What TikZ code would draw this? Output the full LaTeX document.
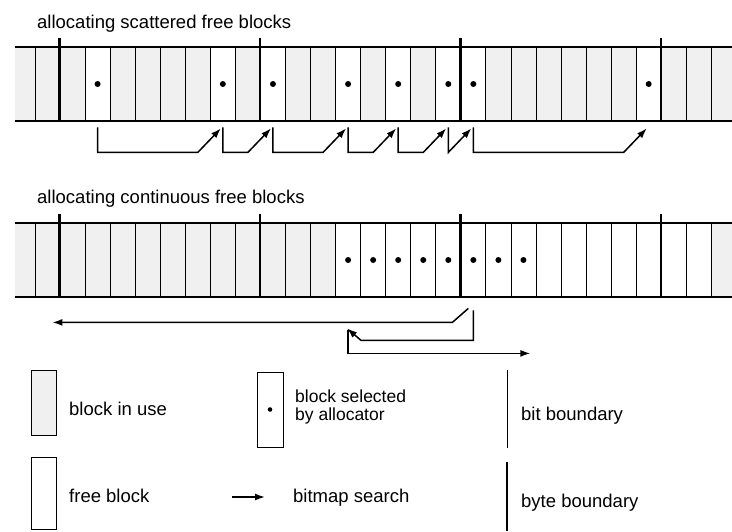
\documentclass[tikz,border=0pt]{standalone}
\usepackage{fontspec}
\setmainfont{Liberation Sans}
\usetikzlibrary{arrows.meta}

\begin{document}
\begin{tikzpicture}[
  x=1pt, y=-1pt,
  cell/.style={draw, rectangle, minimum width=25.05pt, minimum height=74pt,
  inner sep=0pt, line width=0.8pt},
  inuse/.style={fill=black!6},
  strip/.style={line width=1.6pt},
  byteline/.style={line width=2.4pt},
  search/.style={-{Latex[length=10pt,width=7pt]}, line width=1.5pt},
  txt/.style={anchor=base west, inner sep=0pt, font=\fontsize{18.5}{21}\selectfont}
]
\useasboundingbox (0,0) rectangle (732,531);

% scattered free blocks
\node[txt] (title1) at (37,28) {allocating scattered free blocks};
\fill[black!6] (15,47) rectangle (35,121) (712,47) rectangle (732,121);
\foreach \k in {0,...,26}
  \node[cell, inuse] (s\k) at (47.5+25.05*\k, 84) {};
\foreach \k in {2,7,9,12,14,16,17,24} {
  \node[cell, fill=white] (s\k) at (47.5+25.05*\k, 84) {};
  \fill (s\k) circle (3pt);
}
\draw[strip] (15,47) -- (732,47) (15,121) -- (732,121);
\foreach \k in {1,9,17,25}
  \draw[byteline] ([yshift=9pt]s\k.north west) -- (s\k.south west);
\foreach \a/\b in {2/7,7/9,9/12,12/14,14/16,16/17,17/24} {
  \pgfmathtruncatemacro\p{\b-1}
  \draw[search] ([yshift=-6pt]s\a.south) -- ([yshift=-31pt]s\a.south)
    -- ([yshift=-31pt]s\p.south) -- ([xshift=-2pt,yshift=-7pt]s\b.south);
}

% continuous free blocks
\node[txt] (title2) at (37,203) {allocating continuous free blocks};
\fill[black!6] (15,223) rectangle (35,297) (712,223) rectangle (732,297);
\foreach \k in {0,...,11}
  \node[cell, inuse] (c\k) at (47.5+25.05*\k, 260) {};
\foreach \k in {12,...,19} {
  \node[cell] (c\k) at (47.5+25.05*\k, 260) {};
  \fill (c\k) circle (3pt);
}
\foreach \k in {20,...,26}
  \node[cell] (c\k) at (47.5+25.05*\k, 260) {};
\draw[strip] (15,223) -- (732,223) (15,297) -- (732,297);
\foreach \k in {1,9,17,25}
  \draw[byteline] ([yshift=9pt]c\k.north west) -- (c\k.south west);
\draw[search, {Latex[length=10pt,width=7pt]}-] ([xshift=-8pt,yshift=-25pt]c0.south east)
  -- ([xshift=-21pt,yshift=-25pt]c17.south) -- ([xshift=-5pt,yshift=-11pt]c17.south);
\draw[search] ([yshift=-13pt]c17.south) -- ([yshift=-43pt]c17.south)
  -- ([yshift=-43pt]c12.south east) -- ([xshift=-1pt,yshift=-31pt]c12.south);
\draw[search] ([yshift=-33pt]c12.south) -- ([yshift=-56pt]c12.south)
  -- ([xshift=-6pt,yshift=-56pt]c19.south east);

% key
\node[cell, inuse, minimum width=25pt, minimum height=65pt] (keyuse) at (43.5,402.5) {};
\node[txt] (keyuselbl) at (69,415) {block in use};
\node[cell, minimum width=26pt, minimum height=75pt] (keysel) at (270,409.5) {};
\fill (keysel) circle (2.3pt);
\node[txt, anchor=west, align=left, font=\fontsize{17.5}{17.5}\selectfont]
  (keysellbl) at (295,407) {block selected\\by allocator};
\node[cell, minimum width=25pt, minimum height=72pt] (keyfree) at (43.5,493) {};
\node[txt] (keyfreelbl) at (69,502) {free block};
\coordinate (srchA) at (232,497);
\coordinate (srchB) at (265,497);
\draw[search] (srchA) -- (srchB);
\node[txt] (srchlbl) at (293,502) {bitmap search};
\draw[line width=0.8pt] (507,370) -- (507,448);
\node[txt] (bitlbl) at (521,420) {bit boundary};
\draw[byteline] (507,462) -- (507,531);
\node[txt] (bytelbl) at (521,507) {byte boundary};

\end{tikzpicture}
\end{document}
